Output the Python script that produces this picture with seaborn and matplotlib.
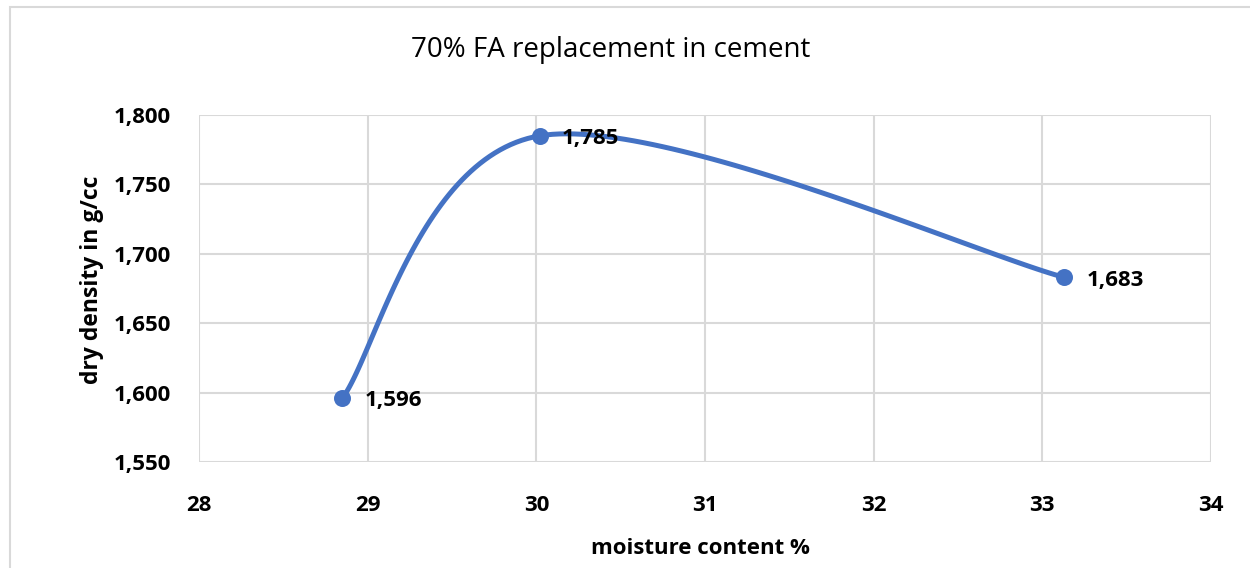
import numpy as np
import pandas as pd
import matplotlib
matplotlib.use("Agg")
import matplotlib.pyplot as plt
import seaborn as sns
from matplotlib.patches import Rectangle
from matplotlib.ticker import FuncFormatter

# Proctor test results
moisture = [28.85, 30.02, 33.13]          # moisture content %
dry_density = [1.596, 1.785, 1.683]       # dry density in g/cc
x_ticks = [28, 29, 30, 31, 32, 33, 34]
y_ticks = [1.550, 1.600, 1.650, 1.700, 1.750, 1.800]

title = "70% FA replacement in cement"
x_label = "moisture content %"
y_label = "dry density in g/cc"

LINE = "#4472C4"
GRID = "#d9d9d9"


def smooth_curve(xs, ys, n=60):
    """Cubic Bezier smoothing through the points (spreadsheet-style)."""
    p = np.column_stack([xs, ys]).astype(float)
    ext = np.vstack([p[0], p, p[-1]])
    out = []
    for i in range(len(p) - 1):
        p0, p1, p2, p3 = ext[i], ext[i + 1], ext[i + 2], ext[i + 3]
        c1 = p1 + (p2 - p0) / 6.0
        c2 = p2 - (p3 - p1) / 6.0
        t = np.linspace(0, 1, n)[:, None]
        seg = ((1 - t) ** 3) * p1 + 3 * ((1 - t) ** 2) * t * c1 \
            + 3 * (1 - t) * t ** 2 * c2 + t ** 3 * p2
        out.append(seg if i == 0 else seg[1:])
    return np.vstack(out)


def comma_fmt(v, _pos=None):
    return f"{v:.3f}".replace(".", ",")


sns.set_theme(style="white")
plt.rcParams["font.family"] = ["Open Sans", "DejaVu Sans"]

fig = plt.figure(figsize=(12.5, 5.68), dpi=100)
ax = fig.add_axes([199 / 1250, 1 - 462 / 568, 1012 / 1250, 347 / 568])

curve = smooth_curve(moisture, dry_density)
curve_df = pd.DataFrame({"x": curve[:, 0], "y": curve[:, 1]})
points_df = pd.DataFrame({"x": moisture, "y": dry_density})

sns.lineplot(data=curve_df, x="x", y="y", ax=ax, color=LINE, linewidth=3.6,
             sort=False, estimator=None, zorder=3)
sns.scatterplot(data=points_df, x="x", y="y", ax=ax, color=LINE, s=150,
                edgecolor=LINE, linewidth=0, zorder=4)

for xv, yv in zip(moisture, dry_density):
    ax.annotate(comma_fmt(yv), (xv, yv), xytext=(16, -2),
                textcoords="offset points", ha="left", va="center",
                fontsize=16, fontweight="bold", color="black", zorder=5)

ax.set_xlim(x_ticks[0], x_ticks[-1])
ax.set_ylim(y_ticks[0], y_ticks[-1])
ax.set_xticks(x_ticks)
ax.set_yticks(y_ticks)
ax.yaxis.set_major_formatter(FuncFormatter(comma_fmt))
ax.grid(True, color=GRID, linewidth=1.5)
ax.set_axisbelow(True)
for s in ax.spines.values():
    s.set_visible(False)
ax.tick_params(axis="both", length=0, labelsize=16, colors="black")
ax.tick_params(axis="x", pad=24)
ax.tick_params(axis="y", pad=20)
for lab in ax.get_xticklabels() + ax.get_yticklabels():
    lab.set_fontweight("bold")

ax.set_xlabel("")
ax.set_ylabel("")
fig.text(700 / 1250, 1 - 549 / 568, x_label, ha="center", va="center",
         fontsize=16, fontweight="bold", color="black")
fig.text(92 / 1250, 1 - 280 / 568, y_label, ha="center", va="center",
         rotation=90, fontsize=16.5, fontweight="bold", color="black")
fig.text(611 / 1250, 1 - 50 / 568, title, ha="center", va="center",
         fontsize=20, color="black")

fig.patches.append(Rectangle((10 / 1250, -0.01), 1.2, 1 - 7 / 568 + 0.01,
                             transform=fig.transFigure, fill=False,
                             edgecolor=GRID, linewidth=1.5))

fig.savefig("out.png", dpi=100, facecolor="white")
